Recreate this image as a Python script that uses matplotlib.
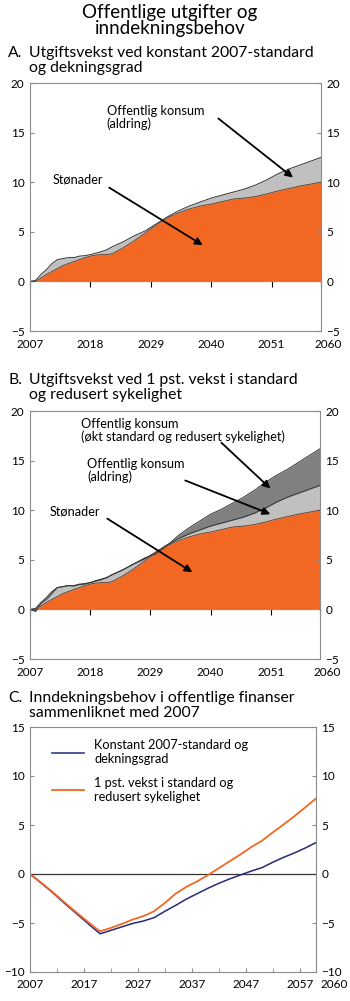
import matplotlib
matplotlib.use('Agg')
import matplotlib.pyplot as plt

plt.rcParams['font.family'] = ['Lato', 'DejaVu Sans']

# panel A / B data (pst. av BNP for Fastlands-Norge)
years_ab = [2007, 2008, 2009, 2010, 2011, 2012, 2013, 2014, 2015, 2016, 2017, 2018,
            2019, 2020, 2021, 2022, 2024, 2026, 2028, 2030, 2032, 2034, 2036, 2038,
            2040, 2042, 2044, 2046, 2048, 2050, 2052, 2054, 2056, 2058, 2060]
stonader = [0, 0, 0.35, 0.7, 1.0, 1.3, 1.6, 1.8, 2.0, 2.2, 2.4, 2.55,
            2.65, 2.7, 2.7, 2.8, 3.4, 4.1, 4.9, 5.7, 6.4, 6.9, 7.3, 7.6,
            7.8, 8.05, 8.3, 8.4, 8.55, 8.8, 9.1, 9.35, 9.6, 9.8, 10.0]
aldring = [0, 0.1, 0.7, 1.2, 1.8, 2.2, 2.3, 2.4, 2.4, 2.55, 2.6, 2.7,
           2.85, 3.0, 3.2, 3.5, 4.0, 4.6, 5.1, 5.8, 6.5, 7.1, 7.6, 8.0,
           8.4, 8.7, 9.0, 9.3, 9.7, 10.2, 10.8, 11.3, 11.7, 12.1, 12.5]
standard = [0, -0.2, 0.6, 1.0, 1.6, 2.2, 2.3, 2.4, 2.35, 2.5, 2.55, 2.7,
            2.9, 3.05, 3.2, 3.5, 4.0, 4.6, 5.2, 5.6, 6.4, 7.4, 8.2, 8.9,
            9.6, 10.1, 10.7, 11.3, 12.0, 12.8, 13.5, 14.1, 14.8, 15.5, 16.2]

# panel C data
years_c = [2007, 2009, 2011, 2013, 2015, 2017, 2019, 2020, 2022, 2024, 2026, 2028,
           2030, 2032, 2034, 2036, 2038, 2040, 2042, 2044, 2046, 2048, 2050, 2052,
           2054, 2056, 2058, 2060]
konstant = [0, -0.9, -1.8, -2.8, -3.75, -4.7, -5.65, -6.1, -5.75, -5.4, -5.05, -4.8,
            -4.45, -3.8, -3.2, -2.55, -2.0, -1.45, -0.95, -0.5, -0.1, 0.3, 0.65, 1.2,
            1.7, 2.15, 2.65, 3.2]
vekst = [0, -0.85, -1.75, -2.7, -3.65, -4.55, -5.45, -5.85, -5.5, -5.1, -4.65, -4.3,
         -3.8, -2.95, -2.0, -1.3, -0.75, -0.1, 0.6, 1.3, 2.0, 2.75, 3.4, 4.25,
         5.05, 5.9, 6.8, 7.7]

ticks_ab = [2007, 2018, 2029, 2040, 2051, 2060]
ticks_c = [2007, 2017, 2027, 2037, 2047, 2057]

ORANGE = '#F26822'
LIGHT = '#C0C0C0'
DARK = '#808080'
NAVY = '#27287A'
SPINE = '#8C8C8C'
FS = 8.5      # tick labels
LFS = 9.2     # labels inside the charts
TFS = 11.3    # panel titles

W, H = 350, 1001
fig = plt.figure(figsize=(W / 100, H / 100), dpi=100)


def px_axes(left, top, right, bottom):
    return fig.add_axes([left / W, 1 - bottom / H, (right - left) / W, (bottom - top) / H])


def style(ax, ylim, yticks):
    ax.set_xlim(2007, 2060)
    ax.set_ylim(*ylim)
    ax.set_yticks(yticks)
    for s in ax.spines.values():
        s.set_color(SPINE)
    ax.tick_params(axis='y', direction='in', length=3, color=SPINE, labelsize=FS,
                   right=True, labelright=True, pad=4)


def last_label(ax, dx, pad):
    # last year label sits a bit right of the frame
    ax.annotate('2060', xy=(1, 0), xycoords='axes fraction', xytext=(dx, -pad),
                textcoords='offset points', ha='center', va='top', fontsize=FS)


def zero_axis(ax):
    # x axis line drawn at zero with ticks hanging down
    sec = ax.secondary_xaxis(0.2)
    sec.set_xticks(ticks_ab)
    sec.tick_params(direction='out', length=4, color='black', labelbottom=False)
    sec.spines['bottom'].set_color('black')
    ax.set_xticks(ticks_ab, [str(y) for y in ticks_ab[:-1]] + [''])
    ax.tick_params(axis='x', length=0, labelsize=FS, pad=6)
    last_label(ax, 5, 6)


def panel_title(y, letter, text):
    fig.text(8 / W, 1 - y / H, letter, fontsize=TFS, va='top')
    fig.text(29 / W, 1 - y / H, text, fontsize=TFS, va='top', linespacing=1.05)


arrow = dict(arrowstyle='-|>', color='black', lw=1.3, mutation_scale=11)
lab = dict(fontsize=LFS, va='top', ha='left', linespacing=1.05)

fig.text(0.485, 1 - 4 / H, 'Offentlige utgifter og\ninndekningsbehov', ha='center', va='top',
         fontsize=13.5, linespacing=0.95)

# ---------------- A
axA = px_axes(30, 83, 321, 331)
style(axA, (-5, 20), [-5, 0, 5, 10, 15, 20])
axA.fill_between(years_ab, 0, aldring, color=LIGHT, lw=0)
axA.plot(years_ab, aldring, color='#333333', lw=0.7)
axA.fill_between(years_ab, 0, stonader, color=ORANGE, lw=0)
axA.plot(years_ab, stonader, color='#5a3a2a', lw=0.6)
zero_axis(axA)
axA.annotate('', xy=(2055.3, 10.3), xytext=(2040.9, 16.6), arrowprops=arrow)
axA.annotate('', xy=(2038.9, 3.5), xytext=(2021.0, 9.6), arrowprops=arrow)
axA.text(2021.0, 17.8, 'Offentlig konsum\n(aldring)', **lab)
axA.text(2011.1, 10.9, 'Stønader', **lab)
panel_title(46, 'A.', 'Utgiftsvekst ved konstant 2007-standard\nog dekningsgrad')

# ---------------- B
axB = px_axes(30, 411, 320, 659)
style(axB, (-5, 20), [-5, 0, 5, 10, 15, 20])
axB.fill_between(years_ab, 0, standard, color=DARK, lw=0)
axB.plot(years_ab, standard, color='#333333', lw=0.7)
axB.fill_between(years_ab, 0, aldring, color=LIGHT, lw=0)
axB.plot(years_ab, aldring, color='#333333', lw=0.7)
axB.fill_between(years_ab, 0, stonader, color=ORANGE, lw=0)
axB.plot(years_ab, stonader, color='#5a3a2a', lw=0.6)
zero_axis(axB)
axB.annotate('', xy=(2051.3, 12.0), xytext=(2041.6, 17.0), arrowprops=arrow)
axB.annotate('', xy=(2051.4, 9.5), xytext=(2034.9, 13.1), arrowprops=arrow)
axB.annotate('', xy=(2037.1, 3.6), xytext=(2020.7, 9.3), arrowprops=arrow)
axB.text(2016.3, 19.3, 'Offentlig konsum\n(økt standard og redusert sykelighet)', **lab)
axB.text(2017.4, 15.3, 'Offentlig konsum\n(aldring)', **lab)
axB.text(2010.6, 10.5, 'Stønader', **lab)
panel_title(373, 'B.', 'Utgiftsvekst ved 1 pst. vekst i standard\nog redusert sykelighet')

# ---------------- C
axC = px_axes(30, 727, 316, 972)
style(axC, (-10, 15), [-10, -5, 0, 5, 10, 15])
axC.axhline(0, color='#333333', lw=0.9)
axC.plot(years_c, konstant, color=NAVY, lw=1.1, label='Konstant 2007-standard og\ndekningsgrad')
axC.plot(years_c, vekst, color=ORANGE, lw=1.3, label='1 pst. vekst i standard og\nredusert sykelighet')
axC.set_xticks(ticks_c)
axC.set_xticks(range(2012, 2060, 5), minor=True)
axC.tick_params(axis='x', which='both', direction='in', length=3, color=SPINE,
                labelsize=FS, pad=5)
last_label(axC, 13, 5)
axC.legend(loc='upper left', bbox_to_anchor=(0.077, 0.95), frameon=False, fontsize=LFS,
           handlelength=2.5, handletextpad=0.8, labelspacing=0.9, borderpad=0,
           borderaxespad=0)
panel_title(691, 'C.', 'Inndekningsbehov i offentlige finanser\nsammenliknet med 2007')

fig.savefig('out.png', dpi=100)
